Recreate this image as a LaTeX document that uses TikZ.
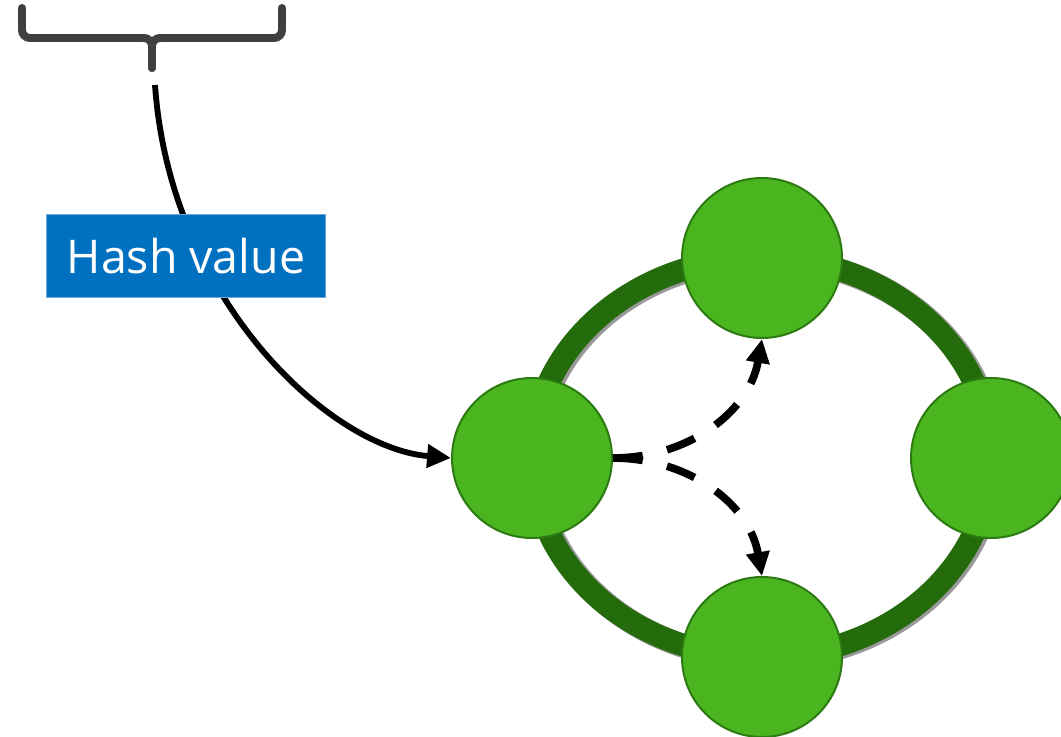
\documentclass[tikz,border=0pt]{standalone}
\usepackage{fontspec}
\setsansfont{Open Sans}
\usetikzlibrary{arrows.meta}

\definecolor{peerfill}{HTML}{4BB520}
\definecolor{peerline}{HTML}{2C7A12}
\definecolor{ringgreen}{HTML}{246C0B}
\definecolor{boxblue}{HTML}{0070C0}
\definecolor{boxline}{HTML}{6FA8DC}
\definecolor{bracegray}{HTML}{404040}

\begin{document}
\begin{tikzpicture}[x=0.02646cm,y=-0.02646cm,
  peer/.style={circle, fill=peerfill, draw=peerline, line width=1.5pt, minimum size=4.233cm, inner sep=0pt},
  hashbox/.style={rectangle, fill=boxblue, draw=boxline, line width=0.8pt, minimum width=7.36cm, minimum height=2.2cm, text=white, font=\sffamily\fontsize{35}{42}\selectfont},
  brace/.style={bracegray, line width=6pt, line cap=round, rounded corners=6pt},
  lookup/.style={line width=5.8pt, dash pattern=on 22.5pt off 18.75pt, -{Triangle[length=18pt,width=17pt]}}]
\useasboundingbox (0,0) rectangle (1061,736);

% ring with its shadow
\draw[gray!80, line width=18pt] (764,459) ellipse [x radius=6.07cm, y radius=5.28cm];
\draw[ringgreen, line width=17pt] (761.5,457.5) ellipse [x radius=6.07cm, y radius=5.28cm];

\node[peer](top) at (762,258) {};
\node[peer](left) at (532,458) {};
\node[peer](right) at (991,458) {};
\node[peer](bottom) at (762,657) {};

% brace over the key
\draw[brace] (22,8) -- (22,38) -- (152,38) -- (152,68);
\draw[brace] (282,8) -- (282,38) -- (152,38) -- (152,68);

\coordinate (tail) at (155,85);
\draw[line width=4.4pt, -{Triangle[length=18pt,width=17pt]}] (tail) .. controls (170,300) and (330,448) .. (left.west);

\node[hashbox](hash) at (186,256) {Hash value};

\draw[lookup] (left.east) to[out=0,in=-100] (top.south);
\draw[lookup] (left.east) to[out=0,in=100] (bottom.north);
\end{tikzpicture}
\end{document}
